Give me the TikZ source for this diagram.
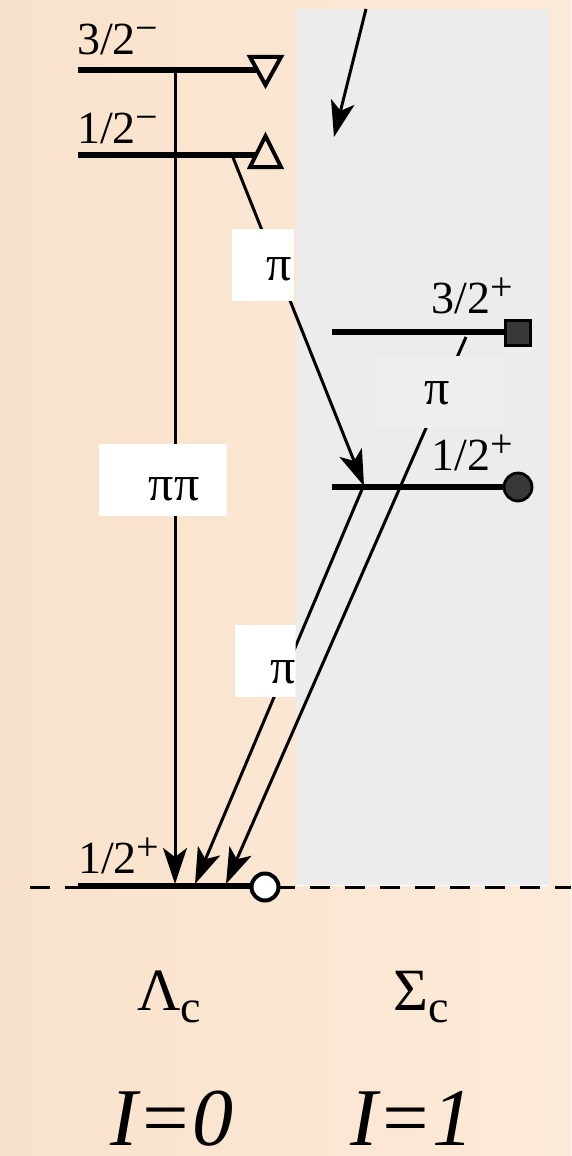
\documentclass[tikz,border=0pt]{standalone}
\usepackage{fontspec}
\setmainfont{Liberation Serif}
\usetikzlibrary{arrows.meta}
\definecolor{bgL}{HTML}{F9E2CB}
\definecolor{bgM}{HTML}{FDF1E6}
\definecolor{bgR}{HTML}{FCEAD8}
\definecolor{panel}{HTML}{ECECEC}
\definecolor{pipanel}{HTML}{EEEEEE}
\definecolor{markfill}{HTML}{383838}
\newcommand\jp[2]{#1\raisebox{13pt}{\fontsize{40}{40}\selectfont #2}}
\begin{document}
\begin{tikzpicture}[x=1pt,y=-1pt,
  arr/.style={line width=3pt, -{Stealth[length=36pt,width=24pt,inset=9pt]}},
  lvl/.style={line width=6.5pt},
  lab/.style={inner sep=0pt, font=\fontsize{46}{48}\selectfont},
  pilab/.style={inner sep=0pt, font=\fontsize{50}{52}\selectfont},
  big/.style={inner sep=0pt, font=\fontsize{60}{62}\selectfont},
  huge/.style={inner sep=0pt, font=\fontsize{82}{84}\selectfont\itshape},
  tri/.style={line width=4pt, line join=miter},
]
\useasboundingbox (0,0) rectangle (571,1156);
\shade[left color=bgL, middle color=bgM, right color=bgR] (0,0) rectangle (571,1156);
\fill[panel] (296,9) rectangle (549,885);
\draw[white, line width=1pt] (296,885) -- (549,885);

% coordinates
\coordinate (dl0) at (30,887);
\coordinate (dl1) at (571,887);
\coordinate (a32) at (78,70);   \coordinate (b32) at (256,70);
\coordinate (a12) at (78,155);  \coordinate (b12) at (257,155);
\coordinate (g0) at (78,886);   \coordinate (g1) at (258,886);
\coordinate (s32a) at (332,332); \coordinate (s32b) at (508,332);
\coordinate (s12a) at (332,487); \coordinate (s12b) at (508,487);

\coordinate (t0) at (366,9);    \coordinate (t1) at (334,137);
\coordinate (pp0) at (175,70);  \coordinate (pp1) at (175,884);
\coordinate (d0) at (232,155);  \coordinate (d1) at (364,486);
\coordinate (e0) at (363,487);  \coordinate (e1) at (195,884);
\coordinate (f0) at (466,337);  \coordinate (f1) at (226,884);

% dashed ground line
\draw[line width=3pt, dash pattern=on 20pt off 15pt] (dl0) -- (dl1);

% transitions
\draw[arr] (t0) -- (t1);
\draw[arr] (pp0) -- (pp1);
\draw[arr] (d0) -- (d1);
\draw[arr] (e0) -- (e1);
\draw[arr] (f0) -- (f1);

% white label boxes (cut by the panel edge)
\begin{scope}
  \clip (0,0) rectangle (295.5,1156);
  \fill[white] (232,229) rectangle (294,301);
  \node[pilab] (pi1) at (279,269) {π};
  \fill[white] (235,625) rectangle (296,697);
  \node[pilab] (pi2) at (283,672) {π};
  \fill[white] (99,444) rectangle (227,516);
  \node[pilab] (pipi) at (174,489) {ππ};
\end{scope}

% label in panel
\fill[pipanel] (376,356) rectangle (506,428);
\node[pilab] (pi3) at (437,393) {π};

% levels
\draw[lvl] (a32) -- (b32);
\draw[lvl] (a12) -- (b12);
\draw[lvl] (g0) -- (g1);
\draw[lvl] (s32a) -- (s32b);
\draw[lvl] (s12a) -- (s12b);

% markers
\draw[tri] (250,57) -- (281,57) -- (265.5,85) -- cycle;
\draw[tri] (265.5,136) -- (281,167) -- (250,167) -- cycle;
\node[draw, line width=4pt, fill=white, circle, minimum size=27pt, inner sep=0pt] (m0) at (265,887) {};
\node[draw, line width=2.8pt, fill=markfill, circle, minimum size=28pt, inner sep=0pt] (m12) at (518,487) {};
\node[draw, line width=2.8pt, fill=markfill, minimum size=25pt, inner sep=0pt] (m32) at (518,333) {};

% labels
\node[lab, anchor=base west] (l32m) at (77,55) {\jp{3/2}{−}};
\node[lab, anchor=base west] (l12m) at (77,143) {\jp{1/2}{−}};
\node[lab, anchor=base west] (l12g) at (78,873) {\jp{1/2}{+}};
\node[lab, anchor=base east] (l32p) at (513,313) {\jp{3/2}{+}};
\node[lab, anchor=base east] (l12p) at (513,470) {\jp{1/2}{+}};

\node[big, anchor=base west] (lam) at (137,1010) {Λ\raisebox{-12pt}{\fontsize{46}{46}\selectfont c}};
\node[big, anchor=base west] (sig) at (393,1010) {Σ\raisebox{-12pt}{\fontsize{46}{46}\selectfont c}};
\node[huge, anchor=base west] (i0) at (110,1145) {I=0};
\node[huge, anchor=base west] (i1) at (350,1145) {I=1};
\end{tikzpicture}
\end{document}
